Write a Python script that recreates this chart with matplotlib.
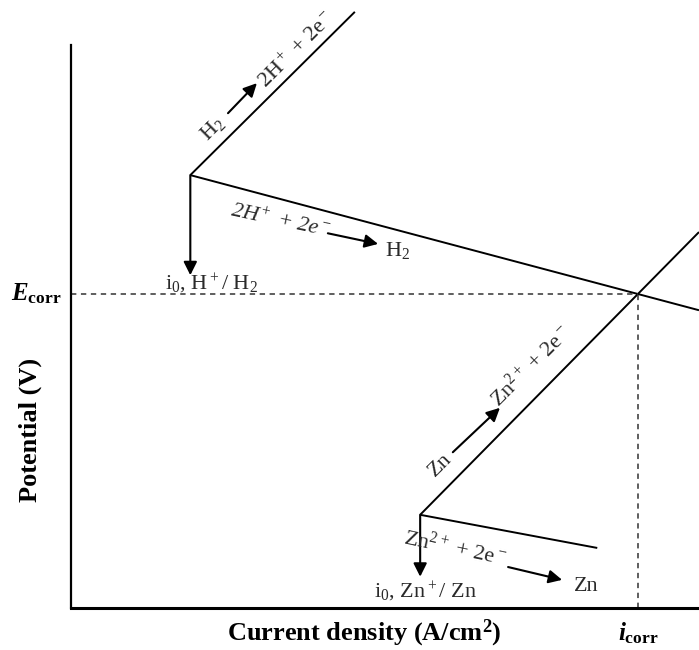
import matplotlib
matplotlib.use('Agg')
import matplotlib.pyplot as plt

plt.rcParams['font.family'] = ['Liberation Serif', 'DejaVu Serif']
plt.rcParams['mathtext.fontset'] = 'custom'
plt.rcParams['mathtext.rm'] = 'Liberation Serif'
plt.rcParams['mathtext.it'] = 'Liberation Serif:italic:bold'
plt.rcParams['mathtext.bf'] = 'Liberation Serif:bold'

# Evans diagram data (x = log current density, y = potential, arbitrary units)
h2_ox_x = [1.9, 4.52]
h2_ox_y = [6.92, 9.53]
h2_red_x = [1.9, 10.0]
h2_red_y = [6.92, 4.76]
zn_ox_x = [5.56, 10.0]
zn_ox_y = [1.49, 6.01]
zn_red_x = [5.56, 8.38]
zn_red_y = [1.49, 0.96]
e_corr = 5.02
i_corr = 9.03

txt_col = '#2a2a2a'
fs = 16

fig = plt.figure(figsize=(6.99, 6.5), dpi=100)
ax = fig.add_axes([71/699, 42/650, 628/699, 563/650])
ax.set_xlim(0, 10)
ax.set_ylim(0, 9)
ax.set_xticks([])
ax.set_yticks([])
for s in ['top', 'right']:
    ax.spines[s].set_visible(False)
ax.spines['left'].set_linewidth(1.6)
ax.spines['bottom'].set_linewidth(2.2)

# polarization lines
for xs, ys in [(h2_ox_x, h2_ox_y), (h2_red_x, h2_red_y), (zn_ox_x, zn_ox_y), (zn_red_x, zn_red_y)]:
    ax.plot(xs, ys, color='black', lw=1.4, clip_on=False, solid_capstyle='butt')

# corrosion point guides
ax.plot([0, i_corr], [e_corr, e_corr], color='#333333', lw=1.1, ls=(0, (3.5, 3)))
ax.plot([i_corr, i_corr], [0, e_corr], color='#333333', lw=1.1, ls=(0, (3.5, 3)))

arr = dict(arrowstyle='-|>', color='black', lw=1.5, mutation_scale=20, shrinkA=0, shrinkB=0)

# exchange current density arrows
ax.annotate('', xy=(h2_ox_x[0], 5.32), xytext=(h2_ox_x[0], h2_ox_y[0]), arrowprops=arr)
ax.annotate('', xy=(zn_ox_x[0], 0.50), xytext=(zn_ox_x[0], zn_ox_y[0]), arrowprops=arr)

# reaction labels with arrows
ax.text(2.26, 7.67, 'H$_2$', rotation=45, ha='center', va='center', rotation_mode='anchor', fontsize=fs, color=txt_col)
ax.annotate('', xy=(2.96, 8.39), xytext=(2.5, 7.91), arrowprops=arr)
ax.text(3.6, 8.92, '2H$^+$ + 2e$^-$', rotation=45, ha='center', va='center', rotation_mode='anchor', fontsize=fs, color=txt_col)

ax.text(3.33, 6.17, '2H$^+$ + 2e$^-$', rotation=-12, ha='center', va='center', rotation_mode='anchor', fontsize=fs, color=txt_col, style='italic')
ax.annotate('', xy=(4.89, 5.82), xytext=(4.09, 5.99), arrowprops=arr)
ax.text(5.2, 5.72, 'H$_2$', ha='center', va='center', fontsize=fs, color=txt_col)
ax.text(2.23, 5.08, 'i$_0$, H$^+$/ H$_2$', ha='center', va='baseline', fontsize=fs, color=txt_col)

ax.text(5.88, 2.29, 'Zn', rotation=45, ha='center', va='center', rotation_mode='anchor', fontsize=fs, color=txt_col)
ax.annotate('', xy=(6.83, 3.20), xytext=(6.08, 2.49), arrowprops=arr)
ax.text(7.33, 3.86, 'Zn$^{2+}$ + 2e$^-$', rotation=45, ha='center', va='center', rotation_mode='anchor', fontsize=fs, color=txt_col)

ax.text(6.11, 0.96, 'Zn$^{2+}$ + 2e$^-$', rotation=-12, ha='center', va='center', rotation_mode='anchor', fontsize=fs, color=txt_col)
ax.annotate('', xy=(7.82, 0.45), xytext=(6.96, 0.655), arrowprops=arr)
ax.text(8.2, 0.34, 'Zn', ha='center', va='center', fontsize=fs, color=txt_col)
ax.text(5.64, 0.16, 'i$_0$, Zn$^+$/ Zn', ha='center', va='baseline', fontsize=fs, color=txt_col)

# E_corr and i_corr markers
ax.annotate(r'$\mathit{E}_{\mathbf{corr}}$', xy=(0, e_corr), xytext=(-7, 0), textcoords='offset points',
            ha='right', va='center', fontsize=18, color='black', annotation_clip=False)
ax.annotate(r'$\mathit{i}_{\mathbf{corr}}$', xy=(i_corr, 0), xytext=(0, -18), textcoords='offset points',
            ha='center', va='center', fontsize=18, color='black', annotation_clip=False)

fig.text(364/699, 1 - 633/650, 'Current density (A/cm$^\\mathbf{2}$)', ha='center', va='center',
         fontsize=19, fontweight='bold')
fig.text(30/699, 1 - 430/650, 'Potential (V)', ha='center', va='center', rotation=90,
         fontsize=19, fontweight='bold')

fig.savefig('out.png', dpi=100)
